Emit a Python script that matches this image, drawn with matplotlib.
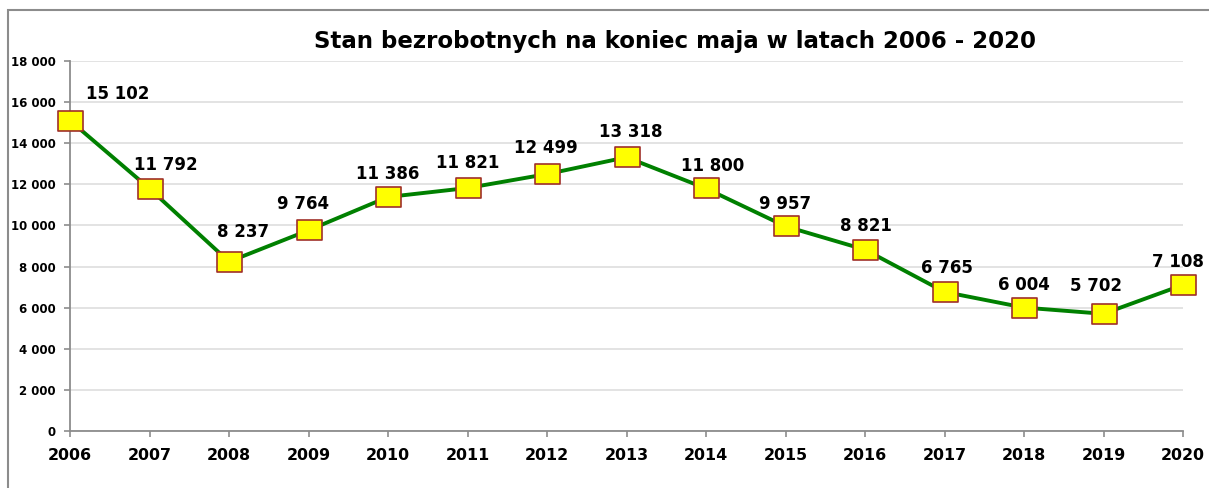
import matplotlib
matplotlib.use("Agg")
import matplotlib.pyplot as plt
from matplotlib.patches import Rectangle
from matplotlib.path import Path

plt.rcParams['font.family'] = ['DejaVu Sans']

years = [2006, 2007, 2008, 2009, 2010, 2011, 2012, 2013, 2014, 2015, 2016, 2017, 2018, 2019, 2020]
values = [15102, 11792, 8237, 9764, 11386, 11821, 12499, 13318, 11800, 9957, 8821, 6765, 6004, 5702, 7108]
yticks = [0, 2000, 4000, 6000, 8000, 10000, 12000, 14000, 16000, 18000]
title = "Stan bezrobotnych na koniec maja w latach 2006 - 2020"

# label offsets (pixels) relative to marker: (dx, dy up)
label_dx = [48, 16, 14, -5, 0, 0, -1, 4, 7, 0, 1, 2, 0, -7, -5]
label_dy = [27, 24, 30, 26, 23, 25, 26, 25, 22, 22, 24, 24, 23, 28, 23]

def fmt(v):
    return f"{v:,}".replace(",", " ")

W, H = 1209, 488
fig = plt.figure(figsize=(W / 100, H / 100), dpi=100)
ax = fig.add_axes([70 / W, 1 - 431 / H, (1183 - 70) / W, (431 - 61) / H])

# outer frame (cropped at right and bottom)
fig.patches.append(Rectangle((8 / W, -0.1), 1.2, 1 - 10 / H + 0.1, transform=fig.transFigure,
                             fill=False, edgecolor='#8c8c8c', linewidth=1.5))

# wide rectangular marker (width 1.25 : height 1)
rect = Path([(-0.625, -0.5), (0.625, -0.5), (0.625, 0.5), (-0.625, 0.5), (-0.625, -0.5)],
            [Path.MOVETO, Path.LINETO, Path.LINETO, Path.LINETO, Path.CLOSEPOLY])

ax.plot(years, values, color='#008000', linewidth=2.8, marker=rect, markersize=18,
        markerfacecolor='#ffff00', markeredgecolor='#a0302a', markeredgewidth=1.2,
        zorder=3, clip_on=False)

for x, v, dx, dy in zip(years, values, label_dx, label_dy):
    ax.annotate(fmt(v), (x, v), xytext=(dx * 0.72, dy * 0.72), textcoords='offset points',
                ha='center', va='center', fontsize=12, fontweight='bold', color='#000000',
                annotation_clip=False)

ax.set_xlim(2006, 2020)
ax.set_ylim(0, 18000)
ax.set_xticks(years)
ax.set_xticklabels([str(y) for y in years], fontsize=11.4, fontweight='bold')
ax.set_yticks(yticks)
ax.set_yticklabels([fmt(t) for t in yticks], fontsize=8.5, fontweight='bold')
ax.grid(axis='y', color='#e0e0e0', linewidth=1.3)
ax.set_axisbelow(True)
for s in ['top', 'right']:
    ax.spines[s].set_visible(False)
for s in ['left', 'bottom']:
    ax.spines[s].set_color('#8c8c8c')
    ax.spines[s].set_linewidth(1.3)
ax.tick_params(axis='x', direction='out', length=4, width=1.2, color='#8c8c8c', pad=8)
ax.tick_params(axis='y', direction='out', length=4, width=1.2, color='#8c8c8c', pad=6)

fig.text(675 / W, 1 - 48 / H, title, ha='center', va='baseline',
         fontsize=16.5, fontweight='bold', color='#000000')

fig.savefig("out.png", dpi=100)
